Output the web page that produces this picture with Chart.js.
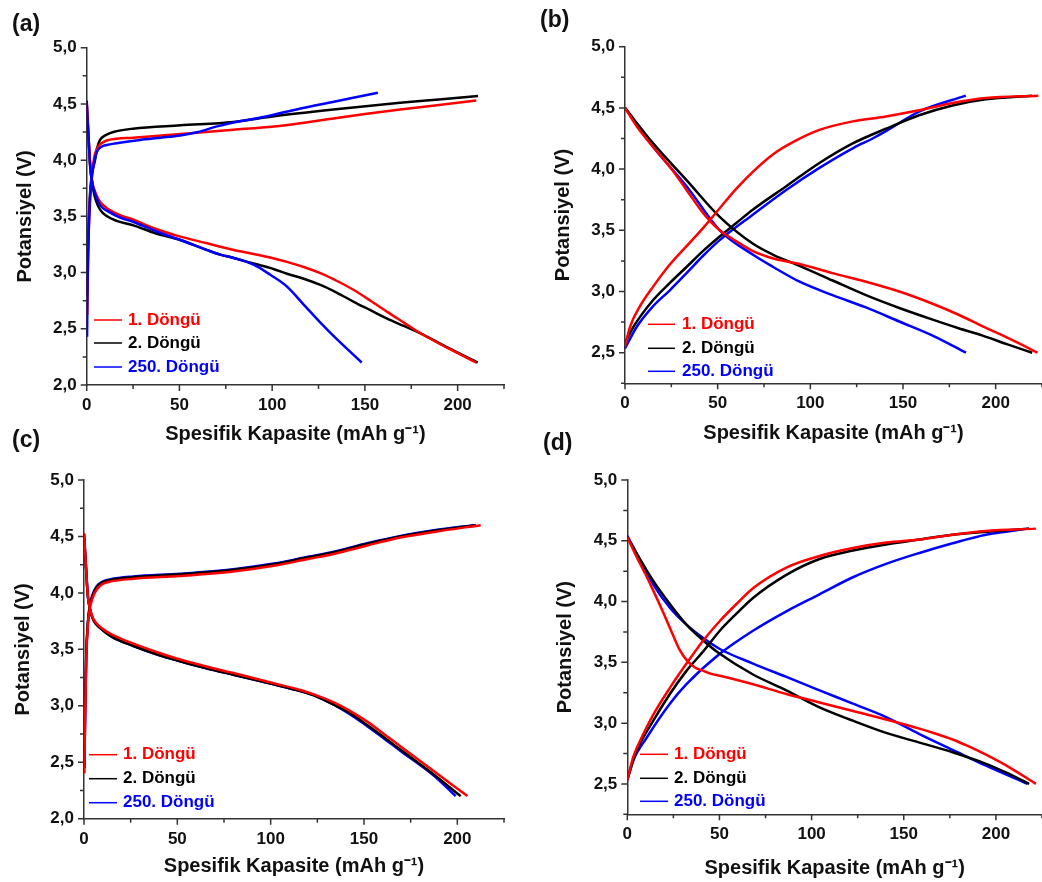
<!DOCTYPE html>
<html lang="tr">
<head>
<meta charset="utf-8">
<title>Şarj-deşarj eğrileri</title>
<script src="https://cdn.jsdelivr.net/npm/chart.js@4.4.1/dist/chart.umd.min.js"></script>
<style>
  body { margin: 0; background: #fff; }
  #lienzo { position: relative; width: 1042px; height: 882px; overflow: hidden; font-family: "Liberation Sans", Arial, sans-serif; }
  canvas { position: absolute; }
  .etiqueta { position: absolute; font-weight: bold; font-size: 23px; line-height: 1; color: #111; }
</style>
</head>
<body>
<div id="lienzo">
  <canvas id="grafA" width="521" height="455" style="left:0;top:0"></canvas>
  <canvas id="grafB" width="521" height="455" style="left:521px;top:0"></canvas>
  <canvas id="grafC" width="521" height="441" style="left:0;top:441px"></canvas>
  <canvas id="grafD" width="521" height="441" style="left:521px;top:441px"></canvas>
  <div class="etiqueta" style="left:12px;top:12px">(a)</div>
  <div class="etiqueta" style="left:540px;top:8px">(b)</div>
  <div class="etiqueta" style="left:12px;top:428px">(c)</div>
  <div class="etiqueta" style="left:543px;top:431px">(d)</div>
</div>

<script>
// --- Datos (capacidad mAh/g, potencial V) ---
const nombres = ["1. Döngü", "2. Döngü", "250. Döngü"];
const colores = ["#ff0000", "#000000", "#0000ff"];

const xTicks = [0, 50, 100, 150, 200];
const xMinor = [25, 75, 125, 175, 225];
const yTicksAC = [2.0, 2.5, 3.0, 3.5, 4.0, 4.5, 5.0];
const yMinorAC = [2.25, 2.75, 3.25, 3.75, 4.25, 4.75];
const yTicksBD = [2.5, 3.0, 3.5, 4.0, 4.5, 5.0];
const yMinorBD = [2.25, 2.75, 3.25, 3.75, 4.25, 4.75];

// (a)
const a1Carga = [[0.2,2.62],[0.8,3.2],[1.6,3.6],[2.6,3.85],[4,4.02],[5.4,4.1],[8,4.15],[10.8,4.175],[16,4.19],[25,4.2],[50.5,4.233],[79,4.27],[101,4.3],[120,4.34],[133,4.37],[150,4.41],[169,4.45],[190,4.49],[210,4.53]];
const a1Descarga = [[0,4.52],[1,4.2],[2,3.93],[3,3.8],[5,3.7],[7.2,3.63],[12,3.56],[18,3.51],[25.2,3.47],[37,3.39],[50.5,3.32],[65,3.26],[72,3.23],[79.3,3.2],[90,3.165],[101,3.125],[108,3.095],[117,3.05],[126,2.995],[135,2.925],[144,2.845],[153,2.75],[162,2.65],[171,2.555],[180,2.46],[195,2.325],[210,2.2]];
const a2Carga = [[0.2,2.8],[0.8,3.3],[1.6,3.65],[2.6,3.85],[4.5,4.0],[5.5,4.1],[7.2,4.18],[10,4.22],[14.4,4.25],[25,4.28],[50.5,4.31],[79,4.34],[101,4.39],[133,4.45],[169,4.51],[190,4.54],[211,4.57]];
const a2Descarga = [[0,4.5],[1,4.2],[2,3.92],[3,3.8],[3.6,3.73],[5,3.64],[7.2,3.56],[11,3.5],[16.2,3.46],[25.2,3.42],[37,3.35],[50.5,3.29],[65,3.2],[72,3.16],[79.3,3.13],[90,3.08],[101,3.03],[108,2.99],[117,2.945],[126,2.89],[135,2.82],[144,2.74],[153,2.665],[162,2.59],[171,2.525],[180,2.46],[195,2.33],[210.8,2.2]];
const a3Carga = [[0.2,2.43],[0.5,2.9],[1,3.3],[1.8,3.65],[2.8,3.85],[4,3.98],[5.4,4.07],[8,4.12],[10.8,4.135],[16,4.15],[28.8,4.18],[40,4.2],[50.5,4.22],[60,4.25],[70.3,4.3],[84,4.35],[97.3,4.39],[115.3,4.46],[133.3,4.52],[145,4.56],[157,4.6]];
const a3Descarga = [[0,4.53],[1,4.2],[2,3.92],[3,3.8],[5,3.68],[7.2,3.6],[12,3.54],[18,3.49],[25.2,3.45],[37,3.37],[50.5,3.29],[65,3.2],[72,3.16],[79.3,3.13],[90,3.07],[99,2.98],[108,2.875],[117,2.715],[126,2.555],[135,2.405],[148.3,2.2]];

// (b)
const b1Carga = [[0,2.55],[2.7,2.71],[8.1,2.88],[15.2,3.04],[24.2,3.22],[33.2,3.37],[42.2,3.52],[51.1,3.68],[60.1,3.84],[69.1,3.98],[79.8,4.12],[90.6,4.22],[104.9,4.32],[122.9,4.39],[140.8,4.43],[158.7,4.48],[176.7,4.54],[194.6,4.58],[223,4.6]];
const b1Descarga = [[0,4.5],[6.3,4.35],[15.2,4.18],[24.2,4.02],[33.2,3.83],[42.2,3.64],[51.1,3.5],[60.1,3.41],[69.1,3.33],[80,3.27],[94.2,3.225],[112,3.15],[130,3.08],[148,3.0],[166,2.9],[180,2.81],[193,2.715],[208,2.61],[222.6,2.5]];
const b2Carga = [[0,2.58],[4.5,2.71],[15.2,2.93],[24.2,3.07],[33.2,3.2],[42,3.33],[51.1,3.45],[60.1,3.56],[69.1,3.67],[87,3.86],[104.9,4.05],[122.9,4.21],[140.8,4.33],[158.7,4.44],[176.7,4.52],[194.6,4.57],[219.7,4.6]];
const b2Descarga = [[0,4.5],[15.2,4.21],[33.2,3.91],[51.1,3.61],[69.1,3.39],[80,3.3],[94.2,3.21],[112,3.09],[130,2.97],[148,2.865],[166,2.77],[180,2.7],[193,2.64],[206,2.57],[219.7,2.5]];
const b3Carga = [[0,2.535],[6.3,2.71],[15.2,2.88],[24.2,3.01],[33.2,3.15],[42,3.29],[51.1,3.42],[69.1,3.63],[87,3.83],[104.9,4.01],[122.9,4.17],[133.6,4.25],[140.8,4.31],[158.7,4.47],[183.9,4.6]];
const b3Descarga = [[0,4.5],[15.2,4.18],[33.2,3.86],[51.1,3.5],[69.1,3.3],[80,3.2],[94.2,3.08],[112,2.97],[130,2.87],[148,2.755],[166,2.64],[184,2.5]];

// (c)
const c1Carga = [[0.2,2.4],[0.6,2.9],[1.2,3.4],[2,3.7],[3,3.85],[4.5,3.95],[6.8,4.03],[10,4.08],[14,4.1],[26.5,4.125],[51.5,4.15],[80,4.19],[101.6,4.24],[120,4.3],[133.8,4.345],[151.7,4.42],[169.6,4.49],[187.5,4.54],[212.5,4.6]];
const c1Descarga = [[0,4.53],[1,4.25],[2,3.98],[3.3,3.85],[5,3.77],[8.6,3.7],[15,3.63],[26.5,3.55],[40,3.47],[51.5,3.41],[65,3.35],[80,3.29],[101.6,3.2],[115.9,3.14],[125,3.09],[133.8,3.03],[142,2.96],[151.7,2.86],[160,2.76],[169.6,2.64],[187.5,2.42],[205.4,2.2]];
const c2Carga = [[0.2,2.45],[0.6,2.95],[1.2,3.45],[2,3.72],[3,3.87],[4.5,3.97],[6.8,4.05],[10,4.095],[14,4.115],[26.5,4.14],[51.5,4.165],[80,4.205],[101.6,4.255],[120,4.315],[133.8,4.36],[151.7,4.435],[169.6,4.5],[187.5,4.55],[210,4.6]];
const c2Descarga = [[0,4.52],[1,4.25],[2,3.98],[3.3,3.85],[5,3.76],[8.6,3.69],[15,3.61],[26.5,3.53],[40,3.45],[51.5,3.395],[65,3.335],[80,3.275],[101.6,3.19],[115.9,3.13],[125,3.08],[133.8,3.01],[142,2.94],[151.7,2.83],[160,2.73],[169.6,2.61],[187.5,2.39],[201.8,2.2]];
const c3Carga = [[0.2,2.45],[0.6,2.95],[1.2,3.45],[2,3.72],[3,3.88],[4.5,3.98],[6.8,4.06],[10,4.1],[14,4.12],[26.5,4.145],[51.5,4.17],[80,4.21],[101.6,4.26],[120,4.32],[133.8,4.365],[151.7,4.44],[169.6,4.505],[187.5,4.555],[209,4.6]];
const c3Descarga = [[0,4.52],[1,4.25],[2,3.98],[3.3,3.85],[5,3.76],[8.6,3.69],[15,3.61],[26.5,3.53],[40,3.45],[51.5,3.395],[65,3.335],[80,3.275],[101.6,3.19],[115.9,3.13],[125,3.08],[133.8,3.01],[142,2.93],[151.7,2.82],[160,2.72],[169.6,2.6],[187.5,2.38],[199.1,2.2]];

// (d)
const d1Carga = [[0,2.53],[3.2,2.72],[8.7,2.91],[14.1,3.07],[23.1,3.29],[32.1,3.49],[41.2,3.68],[50.2,3.84],[59.2,3.98],[68.2,4.11],[86.3,4.28],[104.3,4.375],[122.4,4.44],[140.4,4.485],[158.5,4.51],[176.5,4.55],[194.6,4.58],[221.7,4.6]];
const d1Descarga = [[0,4.53],[5,4.37],[10,4.22],[14.1,4.09],[19.5,3.91],[24.9,3.72],[28.5,3.6],[32.1,3.52],[36.5,3.46],[41.2,3.43],[45.5,3.405],[50.2,3.39],[68.2,3.32],[86.3,3.24],[104.3,3.17],[122.4,3.1],[140.4,3.03],[158.5,2.955],[167,2.915],[176.5,2.865],[185,2.81],[194.6,2.74],[208,2.63],[221.7,2.5]];
const d2Carga = [[0,2.54],[5,2.77],[14.1,3.02],[23.1,3.24],[32.1,3.43],[41.2,3.59],[50.2,3.76],[59.2,3.9],[68.2,4.03],[86.3,4.22],[104.3,4.35],[122.4,4.42],[140.4,4.47],[158.5,4.51],[176.5,4.55],[218,4.6]];
const d2Descarga = [[0,4.53],[14.1,4.17],[23.1,3.98],[32.1,3.81],[41.2,3.68],[50.2,3.57],[68.2,3.4],[86.3,3.27],[104.3,3.13],[122.4,3.02],[140.4,2.92],[158.5,2.84],[176.5,2.76],[194.6,2.665],[206,2.59],[218,2.5]];
const d3Carga = [[0,2.53],[3.2,2.69],[10.5,2.88],[23.1,3.16],[32.1,3.32],[50.2,3.57],[68.2,3.76],[86.3,3.92],[104.3,4.06],[122.4,4.2],[140.4,4.31],[158.5,4.4],[176.5,4.48],[194.6,4.55],[218,4.6]];
const d3Descarga = [[0,4.54],[14.1,4.14],[23.1,3.95],[32.1,3.81],[41.2,3.7],[50.2,3.61],[68.2,3.49],[86.3,3.38],[104.3,3.27],[122.4,3.16],[140.4,3.05],[158.5,2.91],[176.5,2.78],[194.6,2.65],[217.2,2.5]];

// --- Plugins ---
const fuente = '"Liberation Sans", Arial, sans-serif';

// Marcas mayores/menores hacia afuera
const marcasPlugin = {
  id: "marcas",
  afterDraw(chart, args, opts) {
    const { ctx, chartArea, scales: { x, y } } = chart;
    ctx.save();
    ctx.strokeStyle = "#333";
    ctx.lineWidth = 1.5;
    ctx.beginPath();
    opts.xMayor.forEach(v => { const p = x.getPixelForValue(v); ctx.moveTo(p, chartArea.bottom); ctx.lineTo(p, chartArea.bottom + 6); });
    opts.xMenor.forEach(v => { const p = x.getPixelForValue(v); ctx.moveTo(p, chartArea.bottom); ctx.lineTo(p, chartArea.bottom + 4); });
    opts.yMayor.forEach(v => { const p = y.getPixelForValue(v); ctx.moveTo(chartArea.left, p); ctx.lineTo(chartArea.left - 6, p); });
    opts.yMenor.forEach(v => { const p = y.getPixelForValue(v); ctx.moveTo(chartArea.left, p); ctx.lineTo(chartArea.left - 4, p); });
    ctx.stroke();
    ctx.restore();
  }
};

// Leyenda dentro del area del grafico
const leyendaPlugin = {
  id: "leyenda",
  afterDraw(chart, args, opts) {
    const { ctx, chartArea } = chart;
    ctx.save();
    ctx.font = "bold 17px " + fuente;
    ctx.textBaseline = "middle";
    nombres.forEach((nombre, i) => {
      const yy = chartArea.bottom + opts.filas[i];
      ctx.strokeStyle = colores[i];
      ctx.lineWidth = 1.5;
      ctx.beginPath();
      ctx.moveTo(chartArea.left + opts.x0, yy);
      ctx.lineTo(chartArea.left + opts.x1, yy);
      ctx.stroke();
      ctx.fillStyle = colores[i];
      ctx.fillText(nombre, chartArea.left + opts.xt, yy);
    });
    ctx.restore();
  }
};

function serie(puntos, i) {
  return {
    data: puntos.map(p => ({ x: p[0], y: p[1] })),
    borderColor: colores[i],
    borderWidth: 2.5,
    pointRadius: 0,
    showLine: true,
    fill: false,
    cubicInterpolationMode: "monotone"
  };
}

function crearPanel(id, datasets, aj) {
  const canvas = document.getElementById(id);
  return new Chart(canvas.getContext("2d"), {
    type: "scatter",
    data: { datasets },
    plugins: [marcasPlugin, leyendaPlugin],
    options: {
      responsive: false,
      animation: false,
      layout: { padding: { top: aj.arriba, right: aj.derecha, left: 0, bottom: 0 } },
      plugins: {
        legend: { display: false },
        tooltip: { enabled: false },
        marcas: { xMayor: xTicks, xMenor: xMinor, yMayor: aj.yTicks, yMenor: aj.yMinor },
        leyenda: aj.leyenda
      },
      scales: {
        x: {
          type: "linear",
          min: 0,
          max: 225,
          grid: { display: false, drawTicks: false },
          border: { display: true, color: "#333", width: 1.5 },
          afterBuildTicks: s => { s.ticks = xTicks.map(v => ({ value: v })); },
          afterFit: s => { s.height = aj.altoX; },
          ticks: { color: "#111", padding: 10, maxRotation: 0, font: { family: fuente, size: 17, weight: "bold" }, callback: v => String(v) },
          title: { display: true, text: "Spesifik Kapasite (mAh g⁻¹)", color: "#111", padding: { top: 0, bottom: aj.padTituloX }, font: { family: fuente, size: 20, weight: "bold" } }
        },
        y: {
          type: "linear",
          min: aj.yMin,
          max: 5.0,
          grid: { display: false, drawTicks: false },
          border: { display: true, color: "#333", width: 1.5 },
          afterBuildTicks: s => { s.ticks = aj.yTicks.map(v => ({ value: v })); },
          afterFit: s => { s.width = aj.anchoY; },
          ticks: { color: "#111", padding: 10, font: { family: fuente, size: 17, weight: "bold" }, callback: v => v.toFixed(1).replace(".", ",") },
          title: { display: true, text: "Potansiyel (V)", color: "#111", padding: { top: aj.padTituloY, bottom: 0 }, font: { family: fuente, size: 20, weight: "bold" } }
        }
      }
    }
  });
}

// --- Paneles ---
crearPanel("grafA",
  [serie(a3Carga, 2), serie(a3Descarga, 2), serie(a1Carga, 0), serie(a1Descarga, 0), serie(a2Carga, 1), serie(a2Descarga, 1)],
  { arriba: 47.7, derecha: 17, anchoY: 86.7, altoX: 70, padTituloX: 9, padTituloY: 13, yMin: 2.0, yTicks: yTicksAC, yMinor: yMinorAC,
    leyenda: { x0: 7.3, x1: 35.3, xt: 41.3, filas: [-65, -42, -18] } });

crearPanel("grafB",
  [serie(b1Carga, 0), serie(b1Descarga, 0), serie(b2Carga, 1), serie(b2Descarga, 1), serie(b3Carga, 2), serie(b3Descarga, 2)],
  { arriba: 46.7, derecha: 0, anchoY: 104, altoX: 71.7, padTituloX: 10, padTituloY: 30, yMin: 2.25, yTicks: yTicksBD, yMinor: yMinorBD,
    leyenda: { x0: 23, x1: 50, xt: 57, filas: [-59, -35, -12] } });

crearPanel("grafC",
  [serie(c1Carga, 0), serie(c1Descarga, 0), serie(c2Carga, 1), serie(c2Descarga, 1), serie(c3Carga, 2), serie(c3Descarga, 2)],
  { arriba: 39, derecha: 17, anchoY: 84, altoX: 63.3, padTituloX: 4, padTituloY: 11, yMin: 2.0, yTicks: yTicksAC, yMinor: yMinorAC,
    leyenda: { x0: 5, x1: 33, xt: 39, filas: [-64, -40, -16] } });

crearPanel("grafD",
  [serie(d1Carga, 0), serie(d1Descarga, 0), serie(d2Carga, 1), serie(d2Descarga, 1), serie(d3Carga, 2), serie(d3Descarga, 2)],
  { arriba: 39, derecha: 0, anchoY: 106.3, altoX: 67.7, padTituloX: 2, padTituloY: 32, yMin: 2.25, yTicks: yTicksBD, yMinor: yMinorBD,
    leyenda: { x0: 12.7, x1: 40.7, xt: 46.7, filas: [-60, -36, -13] } });
</script>
</body>
</html>
